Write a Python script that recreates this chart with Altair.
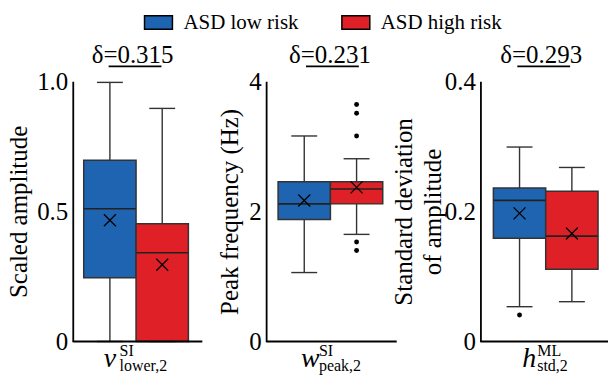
import altair as alt
import pandas as pd

FONT = "Liberation Serif"
groups = ["ASD low risk", "ASD high risk"]
colors = ["#1f64b1", "#df2027"]

# Panel 1: scaled amplitude
p1_q1 = [0.245, 0.0]
p1_q3 = [0.697, 0.453]
p1_med = [0.510, 0.341]
p1_mean = [0.466, 0.295]
p1_wlo = [0.0, 0.0]
p1_whi = [0.996, 0.896]
p1_out_group = []
p1_out_val = []

# Panel 2: peak frequency
p2_q1 = [1.876, 2.116]
p2_q3 = [2.457, 2.457]
p2_med = [2.116, 2.345]
p2_mean = [2.167, 2.37]
p2_wlo = [1.06, 1.647]
p2_whi = [3.16, 2.81]
p2_out_group = ["ASD high risk"] * 5
p2_out_val = [3.645, 3.51, 3.16, 1.53, 1.40]

# Panel 3: standard deviation of amplitude
p3_q1 = [0.1586, 0.111]
p3_q3 = [0.236, 0.231]
p3_med = [0.217, 0.162]
p3_mean = [0.197, 0.166]
p3_wlo = [0.0535, 0.0612]
p3_whi = [0.299, 0.2676]
p3_out_group = ["ASD low risk"]
p3_out_val = [0.0408]

titles = ["δ=0.315", "δ=0.231", "δ=0.293"]
y_titles = ["Scaled amplitude", "Peak frequency (Hz)", ["Standard deviation", "of amplitude"]]
y_max = [1.0, 4.0, 0.4]
y_ticks = [[0, 0.5, 1.0], [0, 2, 4], [0, 0.2, 0.4]]
letters = ["v", "w", "h"]
sups = ["SI", "SI", "ML"]
subs = ["lower,2", "peak,2", "std,2"]

H = 261


def panel(i, q1, q3, med, mean, wlo, whi, og, ov, plot_w, total_w, x_range,
          title_x, ytitle_x, letter_x, script_x, legend):
    df = pd.DataFrame({"group": groups, "q1": q1, "q3": q3, "med": med,
                       "mean": mean, "wlo": wlo, "whi": whi})
    odf = pd.DataFrame({"group": og, "val": ov})
    one = pd.DataFrame({"a": [0]})
    xs = alt.X("group:N", scale=alt.Scale(domain=groups, range=x_range,
                                          paddingInner=0, paddingOuter=0), axis=None)
    ys = alt.Scale(domain=[0, y_max[i]], nice=False, zero=True)
    fmt = ".1f" if i != 1 else "d"
    yaxis = alt.Axis(values=y_ticks[i],
                     labelExpr=f"datum.value == 0 ? '0' : format(datum.value, '{fmt}')",
                     title=y_titles[i], titleFont=FONT, titleFontSize=25,
                     titleFontWeight="normal", titleColor="black",
                     titleX=ytitle_x, titleY=H / 2, titleAngle=-90,
                     titleBaseline="middle", titleLineHeight=29,
                     labelFont=FONT, labelFontSize=25, labelColor="black",
                     labelPadding=5, ticks=False, grid=False,
                     domainColor="black", domainWidth=1.8)
    if legend:
        leg = alt.Legend(orient="none", legendX=71, legendY=-74, direction="horizontal",
                         title=None,
                         symbolType="M-1,-0.48L1,-0.48L1,0.48L-1,0.48Z",
                         symbolSize=784, symbolStrokeColor="black",
                         symbolStrokeWidth=1.5, symbolOpacity=1,
                         labelFont=FONT, labelFontSize=21, labelColor="black",
                         labelOffset=10, columnPadding=40, labelLimit=300)
    else:
        leg = None
    fill = alt.Fill("group:N", scale=alt.Scale(domain=groups, range=colors), legend=leg)
    base = alt.Chart(df)
    box = base.mark_bar(stroke="#333333", strokeWidth=1.5, opacity=1).encode(
        x=xs, y=alt.Y("q1:Q", scale=ys, axis=yaxis), y2="q3:Q", fill=fill)
    wl = base.mark_rule(color="#333333", strokeWidth=1.4).encode(x=xs, y="wlo:Q", y2="q1:Q")
    wh = base.mark_rule(color="#333333", strokeWidth=1.4).encode(x=xs, y="q3:Q", y2="whi:Q")
    cap_lo = base.mark_tick(color="#333333", size=26, thickness=1.4, opacity=1).encode(x=xs, y="wlo:Q")
    cap_hi = base.mark_tick(color="#333333", size=26, thickness=1.4, opacity=1).encode(x=xs, y="whi:Q")
    medl = base.mark_tick(color="#222222", size=52, thickness=1.6, opacity=1).encode(x=xs, y="med:Q")
    mn = base.mark_point(shape="M-1,-1L1,1M-1,1L1,-1", size=144, filled=False,
                         color="black", strokeWidth=1.3, opacity=1).encode(x=xs, y="mean:Q")
    layers = [box, wl, wh, cap_lo, cap_hi, medl, mn]
    if len(ov):
        layers.append(alt.Chart(odf).mark_circle(size=24, color="black", opacity=1).encode(
            x=xs, y="val:Q"))
    xline = alt.Chart(one).mark_rule(color="black", strokeWidth=1.8).encode(
        x=alt.value(0), x2=alt.value(plot_w), y=alt.value(H))
    ttl = alt.Chart(one).mark_text(text=titles[i], font=FONT, fontSize=25, align="center",
                                   baseline="alphabetic", color="black").encode(
        x=alt.value(title_x), y=alt.value(-18))
    ul = alt.Chart(one).mark_rule(color="black", strokeWidth=1.8).encode(
        x=alt.value(title_x - 24), x2=alt.value(title_x + 29), y=alt.value(-15))
    let = alt.Chart(one).mark_text(text=letters[i], font=FONT, fontSize=28, fontStyle="italic",
                                   align="left", baseline="alphabetic", color="black").encode(
        x=alt.value(letter_x), y=alt.value(H + 26))
    sup = alt.Chart(one).mark_text(text=sups[i], font=FONT, fontSize=16, align="left",
                                   baseline="alphabetic", color="black").encode(
        x=alt.value(script_x), y=alt.value(H + 15))
    sub = alt.Chart(one).mark_text(text=subs[i], font=FONT, fontSize=16, align="left",
                                   baseline="alphabetic", color="black").encode(
        x=alt.value(script_x), y=alt.value(H + 30))
    layers += [xline, ttl, ul, let, sup, sub]
    return alt.layer(*layers).properties(width=total_w, height=H)


c1 = panel(0, p1_q1, p1_q3, p1_med, p1_mean, p1_wlo, p1_whi, p1_out_group, p1_out_val,
           130, 194, [11, 116], 60, -54, 31, 47, True)
c2 = panel(1, p2_q1, p2_q3, p2_med, p2_mean, p2_wlo, p2_whi, p2_out_group, p2_out_val,
           131, 215, [12, 117], 64, -37, 35, 53, False)
c3 = panel(2, p3_q1, p3_q3, p3_med, p3_mean, p3_wlo, p3_whi, p3_out_group, p3_out_val,
           128, 128, [13, 118], 61, -77, 42, 57, False)

chart = alt.hconcat(c1, c2, c3, spacing=0, bounds="flush").properties(
    padding={"left": 6, "top": 7, "right": 0, "bottom": 0}
).configure_view(stroke=None)

chart.save("out.html", embed_options={"renderer": "svg", "actions": False})
